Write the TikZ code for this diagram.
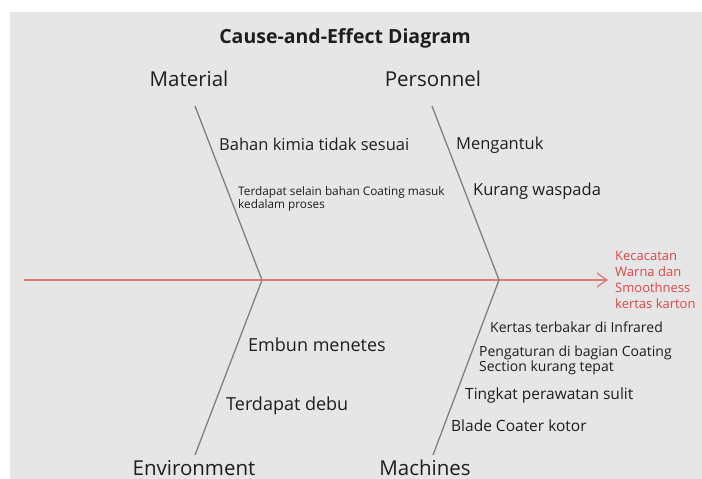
\documentclass[tikz,border=0pt]{standalone}
\usepackage{fontspec}
\setmainfont{Open Sans}
\usepackage{tikz}
\usetikzlibrary{arrows.meta,positioning}
\usepackage{xcolor}
\definecolor{paper}{HTML}{E6E6E6}
\definecolor{bonegray}{HTML}{808080}
\definecolor{spinered}{HTML}{E07A7A}
\definecolor{effectred}{HTML}{D9474A}
\definecolor{ink}{HTML}{1E1E1E}

\begin{document}
\begin{tikzpicture}[
  x=1pt, y=-1pt,
  text=ink,
  title/.style={font=\bfseries\fontsize{19.5}{23}\selectfont, anchor=base, inner sep=0pt},
  cat/.style={font=\fontsize{20.5}{24}\selectfont, anchor=base, inner sep=0pt},
  cause/.style={font=\fontsize{16.5}{19}\selectfont, anchor=base west, inner sep=0pt},
  smallcause/.style={font=\fontsize{11.8}{11}\selectfont, anchor=base west, align=left, inner sep=0pt},
  mcause/.style={font=\fontsize{14}{13}\selectfont, anchor=base west, align=left, inner sep=0pt},
  effect/.style={font=\fontsize{13}{16}\selectfont, anchor=base west, align=left, inner sep=0pt, text=effectred},
  bone/.style={draw=bonegray, line width=1.3pt},
  spine/.style={draw=spinered, line width=1.5pt, -{Straight Barb[length=10pt, width=14pt, line width=1.3pt]}}
]
\useasboundingbox (0,0) rectangle (702,479);
\fill[paper] (10,12) rectangle (702,479);

\node[title] (head) at (345,43) {Cause-and-Effect Diagram};

% categories
\node[cat] (mat) at (189,86) {Material};
\node[cat] (pers) at (433,86) {Personnel};
\node[cat] (env) at (194,475) {Environment};
\node[cat] (mach) at (425,475) {Machines};

% spine and bones
\coordinate (tail) at (24,280);
\coordinate (tip) at (608,280);
\coordinate (j1) at (262,280);
\coordinate (j2) at (499,280);
\coordinate (matend) at (195,106);
\coordinate (persend) at (432,106);
\coordinate (envend) at (195,455);
\coordinate (machend) at (433,455);

\node[effect] (eff) at (615,308) {Kecacatan\\Warna dan\\Smoothness\\kertas karton};
\draw[spine] (tail) -- (tip);
\draw[bone] (matend) -- (j1) -- (envend);
\draw[bone] (persend) -- (j2) -- (machend);

% causes
\node[cause] (m1) at (219,150) {Bahan kimia tidak sesuai};
\node[smallcause] (m2) at (238,208) {Terdapat selain bahan Coating masuk\\kedalam proses};
\node[cause] (p1) at (456,149) {Mengantuk};
\node[cause] (p2) at (473,195) {Kurang waspada};
\node[cause, font=\fontsize{18}{21}\selectfont] (e1) at (248,351) {Embun menetes};
\node[cause, font=\fontsize{18}{21}\selectfont] (e2) at (226,410) {Terdapat debu};
\node[mcause] (c1) at (490,332) {Kertas terbakar di Infrared};
\node[mcause] (c2) at (479,371) {Pengaturan di bagian Coating\\Section kurang tepat};
\node[mcause, font=\fontsize{15.5}{18}\selectfont] (c3) at (465,399) {Tingkat perawatan sulit};
\node[mcause, font=\fontsize{15.5}{18}\selectfont] (c4) at (451,431) {Blade Coater kotor};
\end{tikzpicture}
\end{document}
